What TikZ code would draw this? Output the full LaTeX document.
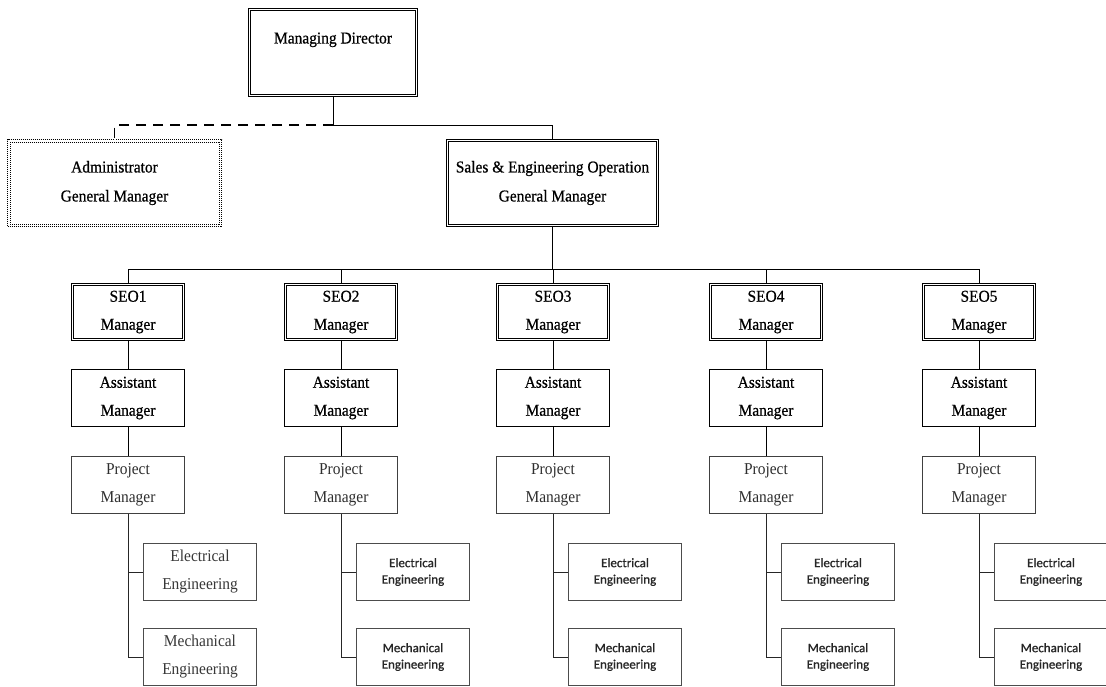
\documentclass[tikz,border=0pt]{standalone}
\usepackage{fontspec}
\setmainfont[FakeStretch=0.93]{Liberation Serif}
\newfontfamily\darkserif[FakeStretch=0.93,FakeBold=0.6]{Liberation Serif}
\newfontfamily\calfont[FakeBold=0.8]{Carlito}
\begin{document}
\begin{tikzpicture}[x=1pt,y=-1pt,
  box/.style={draw, rectangle, inner sep=0pt, align=center, line width=0.9pt,
    font=\darkserif\fontsize{16.6}{28}\selectfont},
  topbox/.style={box, double, double distance=1.5pt, line width=0.7pt,
    font=\darkserif\fontsize{16.6}{29}\selectfont},
  seobox/.style={box, double, double distance=1.5pt, line width=0.7pt,
    minimum width=111, minimum height=55},
  asstbox/.style={box, minimum width=113, minimum height=57},
  projbox/.style={box, draw=black!75, text=black!82, minimum width=113, minimum height=57,
    font=\rmfamily\fontsize{16.6}{28}\selectfont},
  engbox/.style={box, draw=black!70, text=black!78, line width=0.8pt,
    minimum width=113, minimum height=57, font=\rmfamily\fontsize{16.6}{28}\selectfont},
  engsans/.style={engbox, text=black!85, font=\calfont\fontsize{13}{16.5}\selectfont},
  link/.style={line width=0.9pt},
  sublink/.style={line width=0.8pt, black!85},
  dashlink/.style={line width=1.3pt, dash pattern=on 10pt off 7pt}
]
\fill[white] (0,0) rectangle (1106,686);
\useasboundingbox (0,0) rectangle (1106,686);

% top level
\node[topbox, minimum width=167, minimum height=86] (md) at (333,52.5) {Managing Director\\~};
\node[box, dash pattern=on 1pt off 1pt, line width=0.8pt, minimum width=214, minimum height=87,
  font=\darkserif\fontsize{16.6}{29}\selectfont] (adm) at (114.5,183) {Administrator\\General Manager};
\draw[dash pattern=on 1pt off 1pt, line width=0.8pt]
  ([shift={(3,3)}]adm.north west) rectangle ([shift={(-3,-3)}]adm.south east);
\node[topbox, minimum width=210, minimum height=85] (gm) at (552.5,183)
  {Sales \& Engineering Operation\\General Manager};

\coordinate (j0) at (333,125);
\coordinate (j1) at (552.5,269);
\draw[link] (md.south) -- (j0) -| (gm.north);
\draw[dashlink] (j0) -| (adm.north);
\draw[link] (gm.south) -- (j1);

\foreach \i/\cx in {1/128,2/341,3/553,4/766,5/979}{
  \node[seobox] (seo\i) at (\cx,312) {SEO\i\\Manager};
  \node[asstbox] (asst\i) at (\cx,398) {Assistant\\Manager};
  \node[projbox] (proj\i) at (\cx,485) {Project\\Manager};
  \ifnum\i=1
    \node[engbox] (elec\i) at (\cx+72,572) {Electrical\\Engineering};
    \node[engbox] (mech\i) at (\cx+72,657) {Mechanical\\Engineering};
  \else
    \node[engsans] (elec\i) at (\cx+72,572) {Electrical\\Engineering};
    \node[engsans] (mech\i) at (\cx+72,657) {Mechanical\\Engineering};
  \fi
  \draw[link] (j1) -| (seo\i.north);
  \draw[link] (seo\i.south) -- (asst\i.north);
  \draw[link] (asst\i.south) -- (proj\i.north);
  \draw[sublink] (proj\i.south) |- (elec\i.west);
  \draw[sublink] (proj\i.south) |- (mech\i.west);
}
\end{tikzpicture}
\end{document}
